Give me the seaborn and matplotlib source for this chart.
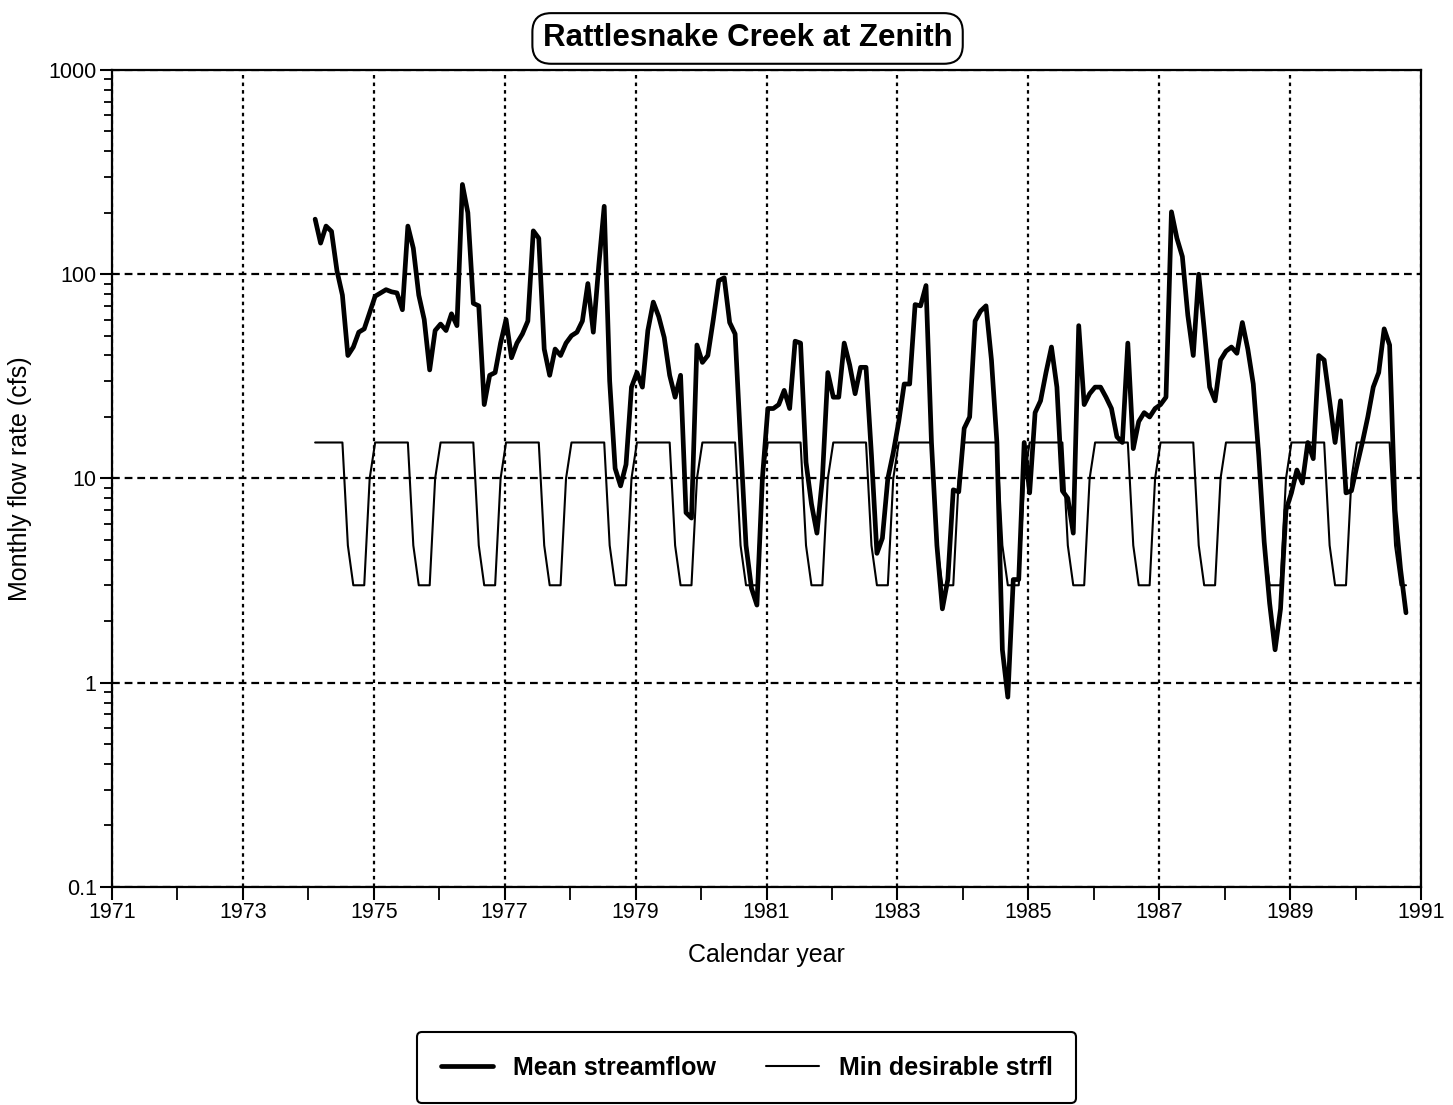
import numpy as np
import pandas as pd
import matplotlib
matplotlib.use("Agg")
import matplotlib.pyplot as plt
import seaborn as sns
from matplotlib.ticker import FixedLocator, FixedFormatter, NullFormatter
from matplotlib.lines import Line2D

# Monthly mean streamflow (cfs), Jan 1974 through Sep 1990
mean_streamflow = [
    186, 142, 172, 162, 104, 79, 40, 44, 52, 54, 65, 78,          # 1974
    81, 84, 82, 81, 67, 172, 134, 79, 60, 34, 53, 57,             # 1975
    53, 64, 56, 275, 200, 72, 70, 23, 32, 33, 46, 60,             # 1976
    39, 46, 51, 59, 163, 150, 43, 32, 43, 40, 46, 50,             # 1977
    52, 59, 90, 52, 110, 215, 30, 11.2, 9.2, 11.7, 28, 33,        # 1978
    28, 53, 73, 62, 49, 32, 25, 32, 6.8, 6.4, 45, 37,             # 1979
    40, 60, 93, 96, 58, 51, 15, 4.7, 2.9, 2.4, 10, 22,            # 1980
    22, 23, 27, 22, 47, 46, 12, 7.5, 5.4, 10, 33, 25,             # 1981
    25, 46, 36, 26, 35, 35, 13, 4.3, 5.1, 10, 13.4, 19,           # 1982
    29, 29, 71, 70, 88, 15, 4.7, 2.3, 3.2, 8.8, 8.6, 17.6,        # 1983
    20, 59, 66, 70, 38, 15, 1.45, 0.85, 3.2, 3.2, 15, 8.5,        # 1984
    21, 24, 33, 44, 28, 8.7, 8, 5.4, 56, 23, 26, 28,              # 1985
    28, 25, 22, 16, 15, 46, 14, 19, 21, 20, 22, 23,               # 1986
    25, 202, 150, 122, 63, 40, 100, 54, 28, 24, 38, 42,           # 1987
    44, 41, 58, 43, 29, 13, 4.9, 2.45, 1.45, 2.3, 7, 8.5,         # 1988
    11, 9.5, 15, 12.5, 40, 38, 24, 15, 24, 8.5, 8.7, 11.5,        # 1989
    15, 20, 28, 33, 54, 45, 7, 3.6, 2.2,                          # 1990
]

# Minimum desirable streamflow (cfs), same months
min_desirable = [
    15, 15, 15, 15, 15, 15, 4.7, 3, 3, 3, 10, 15,   # 1974
    15, 15, 15, 15, 15, 15, 4.7, 3, 3, 3, 10, 15,   # 1975
    15, 15, 15, 15, 15, 15, 4.7, 3, 3, 3, 10, 15,   # 1976
    15, 15, 15, 15, 15, 15, 4.7, 3, 3, 3, 10, 15,   # 1977
    15, 15, 15, 15, 15, 15, 4.7, 3, 3, 3, 10, 15,   # 1978
    15, 15, 15, 15, 15, 15, 4.7, 3, 3, 3, 10, 15,   # 1979
    15, 15, 15, 15, 15, 15, 4.7, 3, 3, 3, 10, 15,   # 1980
    15, 15, 15, 15, 15, 15, 4.7, 3, 3, 3, 10, 15,   # 1981
    15, 15, 15, 15, 15, 15, 4.7, 3, 3, 3, 10, 15,   # 1982
    15, 15, 15, 15, 15, 15, 4.7, 3, 3, 3, 10, 15,   # 1983
    15, 15, 15, 15, 15, 15, 4.7, 3, 3, 3, 10, 15,   # 1984
    15, 15, 15, 15, 15, 15, 4.7, 3, 3, 3, 10, 15,   # 1985
    15, 15, 15, 15, 15, 15, 4.7, 3, 3, 3, 10, 15,   # 1986
    15, 15, 15, 15, 15, 15, 4.7, 3, 3, 3, 10, 15,   # 1987
    15, 15, 15, 15, 15, 15, 4.7, 3, 3, 3, 10, 15,   # 1988
    15, 15, 15, 15, 15, 15, 4.7, 3, 3, 3, 10, 15,   # 1989
    15, 15, 15, 15, 15, 15, 4.7, 3, 3,              # 1990
]

start_year = 1974
series_names = ["Mean streamflow", "Min desirable strfl"]
x_ticks = list(range(1971, 1992, 2))
y_ticks = [0.1, 1, 10, 100, 1000]
y_tick_labels = ["0.1", "1", "10", "100", "1000"]

# decimal year at the end of each month
months = np.arange(len(mean_streamflow))
time = start_year + (months + 1) / 12 + 0.02

df = pd.concat([
    pd.DataFrame({"year": time, "flow": mean_streamflow, "series": series_names[0]}),
    pd.DataFrame({"year": time, "flow": min_desirable, "series": series_names[1]}),
], ignore_index=True)

sns.set_style("white")
plt.rcParams["font.family"] = ["Liberation Sans", "DejaVu Sans"]
plt.rcParams["text.color"] = "black"
plt.rcParams["axes.labelcolor"] = "black"
plt.rcParams["xtick.color"] = "black"
plt.rcParams["ytick.color"] = "black"

fig = plt.figure(figsize=(14.53, 11.05), dpi=100)
ax = fig.add_axes([0.0771, 0.1973, 0.9009, 0.7394])

widths = {series_names[0]: 3.4, series_names[1]: 1.5}
sns.lineplot(data=df, x="year", y="flow", hue="series", size="series",
             sizes=widths, palette={n: "black" for n in series_names},
             ax=ax, legend=False, estimator=None, sort=False)

ax.set_yscale("log")
ax.set_xlim(1971, 1991)
ax.set_ylim(0.1, 1000)

# x axis: labels every other year, plain ticks in between
ax.xaxis.set_major_locator(FixedLocator(x_ticks))
ax.xaxis.set_major_formatter(FixedFormatter([str(v) for v in x_ticks]))
ax.xaxis.set_minor_locator(FixedLocator(list(range(1972, 1991, 2))))
ax.xaxis.set_minor_formatter(NullFormatter())

# y axis: decades labelled, intermediate log ticks
ax.yaxis.set_major_locator(FixedLocator(y_ticks))
ax.yaxis.set_major_formatter(FixedFormatter(y_tick_labels))
minor = [m * 10.0 ** e for e in range(-1, 3) for m in range(2, 10)]
ax.yaxis.set_minor_locator(FixedLocator(minor))
ax.yaxis.set_minor_formatter(NullFormatter())

ax.tick_params(axis="both", which="both", bottom=True, left=True, top=False, right=False)
ax.tick_params(axis="both", which="major", direction="out", length=9, width=1.5,
               color="black", labelcolor="black", labelsize=15.5, pad=2)
ax.tick_params(axis="both", which="minor", direction="out", length=6, width=1.3,
               color="black")
ax.tick_params(axis="x", which="minor", length=9)

# dashed grid
ax.xaxis.grid(True, which="major", color="black", linewidth=1.6,
              linestyle=(0, (1.6, 1.8)))
ax.yaxis.grid(True, which="major", color="black", linewidth=1.6,
              linestyle=(0, (3.5, 2.2)))
ax.set_axisbelow(True)

for side, sp in ax.spines.items():
    sp.set_visible(True)
    sp.set_color("black")
    sp.set_linewidth(1.6)

ax.set_xlabel("Calendar year", fontsize=18, labelpad=14, color="black")
ax.set_ylabel("Monthly flow rate (cfs)", fontsize=18, labelpad=12, color="black")

fig.text(0.5145, 0.9652, "Rattlesnake Creek at Zenith", ha="center", va="center",
         fontsize=22.5, fontweight="bold", color="black",
         bbox=dict(boxstyle="round,pad=0.33,rounding_size=0.6", fc="white",
                   ec="black", lw=1.5))

handles = [Line2D([], [], color="black", linewidth=widths[n]) for n in series_names]
leg = fig.legend(handles, series_names, loc="center", bbox_to_anchor=(0.5138, 0.0339),
                 ncol=2, frameon=True, fancybox=True, edgecolor="black",
                 prop={"weight": "bold", "size": 18}, handlelength=2.1,
                 columnspacing=2.0, borderpad=0.95, handletextpad=0.8)
leg.get_frame().set_linewidth(1.5)
leg.get_frame().set_alpha(1)
for txt in leg.get_texts():
    txt.set_color("black")

fig.savefig("out.png", dpi=100)
